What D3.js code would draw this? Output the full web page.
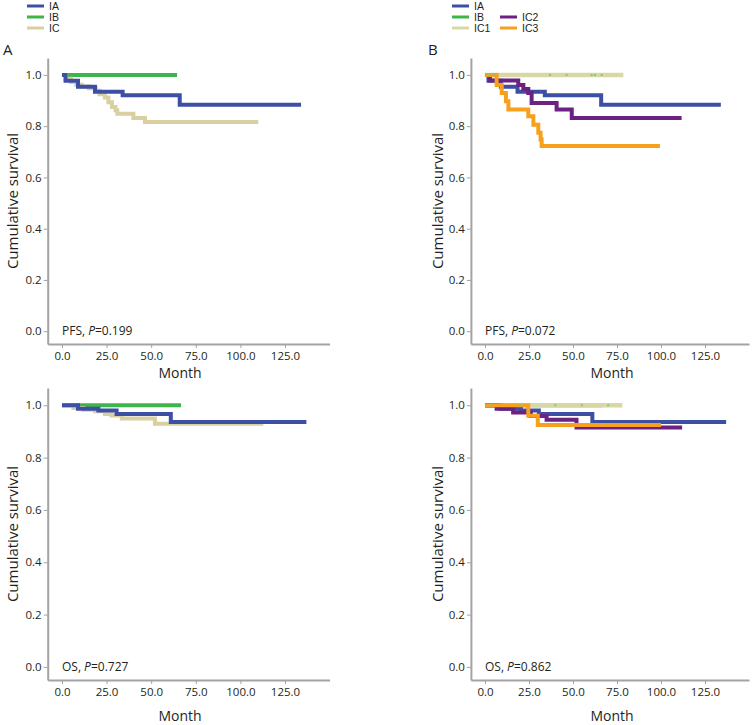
<!DOCTYPE html>
<html><head><meta charset="utf-8">
<script src="https://cdn.jsdelivr.net/npm/d3@7/dist/d3.min.js"></script>
<style>
body{margin:0;background:#fff;}
svg{display:block;font-family:"Open Sans",sans-serif;}
</style></head>
<body>
<svg id="c" width="754" height="725"></svg>
<script>
// ---- data ----
const xTicks = [0, 25, 50, 75, 100, 125];
const yTicks = [0, 0.2, 0.4, 0.6, 0.8, 1.0];
const groupsA = ["IA", "IB", "IC"];
const groupsB = ["IA", "IB", "IC1", "IC2", "IC3"];
const colors = {IA:"#3c4fa5", IB:"#3db54b", IC:"#d8d0a0", IC1:"#d9d8a4", IC2:"#6b2282", IC3:"#f6a01e"};

// PFS (month, survival) step points; last point = end of follow-up
const pfsIA = [[0,1],[2,0.977],[9,0.954],[18.5,0.934],[34,0.921],[66,0.884],[134,0.884]];
const pfsIB = [[0,1],[64.5,1]];
const pfsIC = [[0,1],[2,0.985],[5,0.972],[8,0.962],[11,0.955],[15,0.948],[19,0.938],[21,0.925],[24,0.912],[26,0.893],[28,0.875],[30,0.862],[31,0.848],[40,0.832],[46.5,0.816],[110,0.816]];
const pfsIC1 = [[0,1],[78.6,1]];
const pfsIC2 = [[0,1],[2.8,0.978],[18.9,0.961],[21.8,0.945],[24.6,0.929],[26.5,0.89],[40.7,0.865],[49.3,0.832],[111.7,0.832]];
const pfsIC3 = [[0,1],[6.6,0.961],[9.5,0.929],[11.9,0.897],[13.3,0.865],[24.6,0.839],[27.5,0.806],[30.3,0.774],[31.6,0.748],[32.2,0.723],[99.4,0.723]];
const pfsIC1Censor = [2, 5, 36.9, 46.4, 60.6, 62.5, 66.3];

// OS
const osIA = [[0,1],[9,0.987],[20.4,0.98],[30.6,0.967],[61,0.936],[137,0.936]];
const osIB = [[0,1],[66.7,1]];
const osIC = [[0,1],[6.4,0.99],[11.9,0.983],[18.5,0.977],[24.1,0.967],[27.8,0.961],[33.5,0.949],[52.1,0.929],[112.9,0.929]];
const osIC1 = [[0,1],[78,1]];
const osIC2 = [[0,1],[6.6,0.987],[16,0.972],[26,0.959],[35,0.945],[52,0.915],[112,0.915]];
const osIC3 = [[0,1],[24.6,0.96],[30,0.925],[100,0.925]];
const osIC1Censor = [3, 20, 40, 55, 70];

const statLabels = [
  {kind:"PFS", p:"0.199"}, {kind:"PFS", p:"0.072"},
  {kind:"OS", p:"0.727"}, {kind:"OS", p:"0.862"}
];

// ---- layout ----
const svg = d3.select("#c");
const textColor = "#231f20";
const axisColor = "#a3a3a3";

const panels = [
  {xr:[47.7,329.6], yr:[344,58], series:[["IB",pfsIB],["IC",pfsIC],["IA",pfsIA]], censor:null, stat:statLabels[0], monthY:378, titleX:13, monthX:180},
  {xr:[470.9,749], yr:[344,58], series:[["IB",pfsIB],["IC1",pfsIC1],["IA",pfsIA],["IC2",pfsIC2],["IC3",pfsIC3]], censor:pfsIC1Censor, stat:statLabels[1], monthY:378, titleX:438, monthX:612},
  {xr:[47.7,329.6], yr:[680,388], series:[["IB",osIB],["IC",osIC],["IA",osIA]], censor:null, stat:statLabels[2], monthY:721, titleX:13, monthX:180},
  {xr:[470.9,749], yr:[680,388], series:[["IB",osIB],["IC1",osIC1],["IA",osIA],["IC2",osIC2],["IC3",osIC3]], censor:osIC1Censor, stat:statLabels[3], monthY:721, titleX:438, monthX:612}
];

panels.forEach(p => {
  const x = d3.scaleLinear().domain([-8,150]).range(p.xr);
  const y = d3.scaleLinear().domain([-0.05,1.066]).range(p.yr);
  const g = svg.append("g");

  const xa = g.append("g").attr("transform",`translate(0,${p.yr[0]})`)
    .call(d3.axisBottom(x).tickValues(xTicks).tickFormat(d3.format(".1f")).tickSize(4).tickSizeOuter(0).tickPadding(4));
  const ya = g.append("g").attr("transform",`translate(${p.xr[0]},0)`)
    .call(d3.axisLeft(y).tickValues(yTicks).tickFormat(d3.format(".1f")).tickSize(4).tickSizeOuter(0).tickPadding(2));
  [xa,ya].forEach(a=>{
    a.select(".domain").attr("stroke",axisColor).attr("stroke-width",2);
    a.selectAll(".tick line").attr("stroke",axisColor).attr("stroke-width",1);
    a.selectAll(".tick text").attr("fill",textColor).style("font-size","11.5px").style("font-family","'Open Sans',sans-serif");
  });

  const line = d3.line().x(d=>x(d[0])).y(d=>y(d[1])).curve(d3.curveStepAfter);
  p.series.forEach(([name,data])=>{
    g.append("path").attr("d",line(data)).attr("fill","none")
      .attr("stroke",colors[name]).attr("stroke-width", name==="IC1"?4.5:4).attr("stroke-linejoin","miter");
  });
  if (p.censor) {
    g.selectAll(".cm").data(p.censor).enter().append("rect")
      .attr("x",d=>x(d)-1).attr("y",y(1)-1).attr("width",2).attr("height",2)
      .attr("fill","#7fc97f");
  }

  const st = g.append("text").attr("x",x(0)).attr("y",y(0)).attr("dy","0.35em")
    .attr("fill",textColor).style("font-size","12px");
  st.append("tspan").text(p.stat.kind+", ");
  st.append("tspan").attr("font-style","italic").text("P");
  st.append("tspan").text("="+p.stat.p);

  g.append("text").attr("x",p.monthX).attr("y",p.monthY)
    .attr("text-anchor","middle").attr("fill",textColor).style("font-size","14px").text("Month");
  const cy = (p.yr[0]+p.yr[1])/2;
  g.append("text").attr("transform",`translate(${p.titleX},${cy}) rotate(-90)`)
    .attr("text-anchor","middle").attr("dy","0.35em").attr("fill",textColor).style("font-size","15px").text("Cumulative survival");
});

// legends
function legend(x0, y0, items) {
  const lg = svg.append("g");
  items.forEach(it=>{
    lg.append("line").attr("x1",x0+it.col).attr("x2",x0+it.col+17)
      .attr("y1",y0+it.row*11).attr("y2",y0+it.row*11)
      .attr("stroke",colors[it.name]).attr("stroke-width",3);
    lg.append("text").attr("x",x0+it.col+22).attr("y",y0+it.row*11).attr("dy","0.35em")
      .attr("fill",textColor).style("font-size","10.5px").style("font-family","'Liberation Sans',sans-serif").text(it.name);
  });
}
legend(27, 6, groupsA.map((n,i)=>({name:n,row:i,col:0})));
legend(452, 6, groupsB.map((n,i)=>({name:n,row:i<3?i:i-2,col:i<3?0:48})));

svg.append("text").attr("x",3).attr("y",50).attr("dy","0.35em").attr("fill",textColor).style("font-size","15px").text("A");
svg.append("text").attr("x",428).attr("y",50).attr("dy","0.35em").attr("fill",textColor).style("font-size","15px").text("B");
</script>
</body></html>
